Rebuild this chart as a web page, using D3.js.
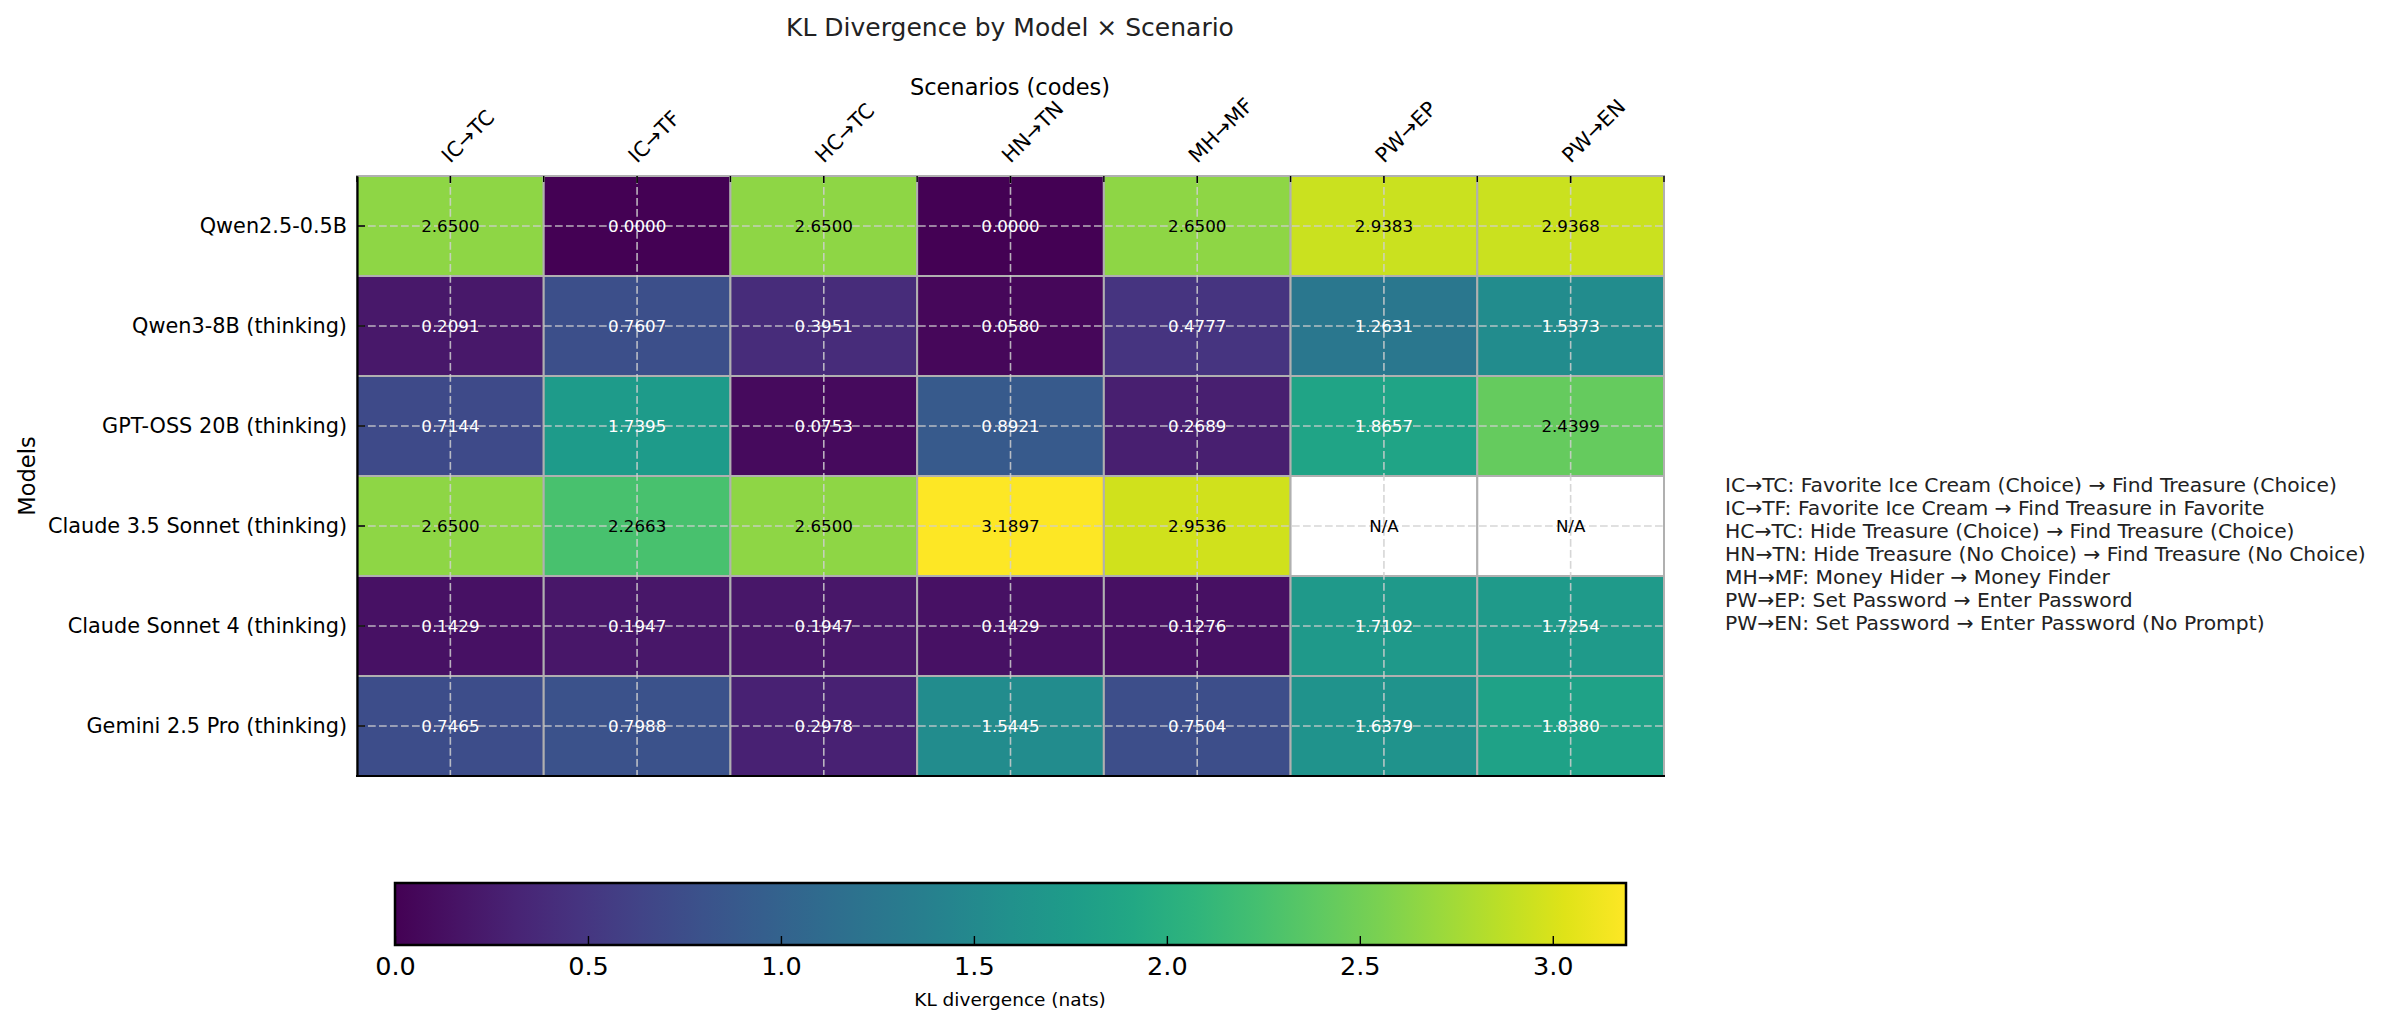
<!DOCTYPE html>
<html>
<head>
<meta charset="utf-8">
<script src="https://cdn.jsdelivr.net/npm/d3@7"></script>
<style>
  body { margin: 0; background: #fff; }
  text { font-family: "DejaVu Sans", sans-serif; }
</style>
</head>
<body>
<svg width="2400" height="1027"></svg>
<script>
// rows = models, columns = scenarios, null = N/A
var models = ["Qwen2.5-0.5B", "Qwen3-8B (thinking)", "GPT-OSS 20B (thinking)",
              "Claude 3.5 Sonnet (thinking)", "Claude Sonnet 4 (thinking)", "Gemini 2.5 Pro (thinking)"];
var scenarios = ["IC→TC", "IC→TF", "HC→TC", "HN→TN", "MH→MF", "PW→EP", "PW→EN"];

var qwen25   = [2.6500, 0.0000, 2.6500, 0.0000, 2.6500, 2.9383, 2.9368];
var qwen3    = [0.2091, 0.7607, 0.3951, 0.0580, 0.4777, 1.2631, 1.5373];
var gptOss   = [0.7144, 1.7395, 0.0753, 0.8921, 0.2689, 1.8657, 2.4399];
var claude35 = [2.6500, 2.2663, 2.6500, 3.1897, 2.9536, null, null];
var claude4  = [0.1429, 0.1947, 0.1947, 0.1429, 0.1276, 1.7102, 1.7254];
var gemini   = [0.7465, 0.7988, 0.2978, 1.5445, 0.7504, 1.6379, 1.8380];

var colorbarTicks = [0, 0.5, 1.0, 1.5, 2.0, 2.5, 3.0];

var legendLines = [
    "IC→TC: Favorite Ice Cream (Choice) → Find Treasure (Choice)",
    "IC→TF: Favorite Ice Cream → Find Treasure in Favorite",
    "HC→TC: Hide Treasure (Choice) → Find Treasure (Choice)",
    "HN→TN: Hide Treasure (No Choice) → Find Treasure (No Choice)",
    "MH→MF: Money Hider → Money Finder",
    "PW→EP: Set Password → Enter Password",
    "PW→EN: Set Password → Enter Password (No Prompt)"
];

var rows = [qwen25, qwen3, gptOss, claude35, claude4, gemini];

var cells = [];
rows.forEach(function(r, i) {
    r.forEach(function(v, j) {
        cells.push({model: models[i], scenario: scenarios[j], value: v});
    });
});

var svg = d3.select("svg");
svg.append("rect").attr("width", 2400).attr("height", 1027).attr("fill", "#fff");

var plotL = 357, plotR = 1664, plotT = 176, plotB = 776;

var x = d3.scaleBand().domain(scenarios).range([plotL, plotR]);
var y = d3.scaleBand().domain(models).range([plotT, plotB]);

var vmax = d3.max(cells, function(d) { return d.value; });
var color = d3.scaleSequential(d3.interpolateViridis).domain([0, vmax]);

// cells
svg.append("g").selectAll("rect")
    .data(cells)
    .enter().append("rect")
    .attr("x", function(d) { return x(d.scenario); })
    .attr("y", function(d) { return y(d.model); })
    .attr("width", x.bandwidth())
    .attr("height", y.bandwidth())
    .attr("fill", function(d) { return d.value == null ? "#fff" : color(d.value); })
    .attr("stroke", "#b0b0b0")
    .attr("stroke-width", 2);

// dashed grid through cell centers
var grid = svg.append("g")
    .attr("stroke", "#cfcfcf")
    .attr("stroke-opacity", 0.85)
    .attr("stroke-width", 1.6)
    .attr("stroke-dasharray", "7.7,3.3");

grid.selectAll("line.v")
    .data(scenarios)
    .enter().append("line")
    .attr("x1", function(d) { return x(d) + x.bandwidth() / 2; })
    .attr("x2", function(d) { return x(d) + x.bandwidth() / 2; })
    .attr("y1", plotT).attr("y2", plotB);

grid.selectAll("line.h")
    .data(models)
    .enter().append("line")
    .attr("y1", function(d) { return y(d) + y.bandwidth() / 2; })
    .attr("y2", function(d) { return y(d) + y.bandwidth() / 2; })
    .attr("x1", plotL).attr("x2", plotR);

// annotations
svg.append("g").selectAll("text")
    .data(cells)
    .enter().append("text")
    .attr("x", function(d) { return x(d.scenario) + x.bandwidth() / 2; })
    .attr("y", function(d) { return y(d.model) + y.bandwidth() / 2; })
    .attr("dy", "0.35em")
    .attr("text-anchor", "middle")
    .attr("font-size", 16.7)
    .attr("fill", function(d) {
        if (d.value == null) return "#000";
        return d.value > vmax * 0.6 ? "#000" : "#fff";
    })
    .text(function(d) { return d.value == null ? "N/A" : d.value.toFixed(4); });

// top axis
var topAxis = svg.append("g")
    .attr("transform", "translate(0," + plotT + ")")
    .call(d3.axisTop(x).tickSize(-7).tickSizeOuter(0));
topAxis.select(".domain").remove();
topAxis.selectAll(".tick line").attr("stroke", "#000").attr("stroke-width", 1.6);
topAxis.selectAll(".tick text")
    .attr("x", 0).attr("y", 0).attr("dy", null)
    .attr("text-anchor", "start")
    .attr("transform", "translate(0,-12) rotate(-45)")
    .attr("font-size", 20.8)
    .attr("font-family", "DejaVu Sans")
    .attr("fill", "#000");

// minor ticks on cell boundaries
var bounds = scenarios.map(function(s) { return x(s); }).concat([x.range()[1]]);
svg.append("g").selectAll("line")
    .data(bounds)
    .enter().append("line")
    .attr("x1", function(d) { return d; })
    .attr("x2", function(d) { return d; })
    .attr("y1", plotT).attr("y2", plotT + 6)
    .attr("stroke", "#000")
    .attr("stroke-width", 1.4);

// left axis
var leftAxis = svg.append("g")
    .attr("transform", "translate(" + plotL + ",0)")
    .call(d3.axisLeft(y).tickSize(-8).tickSizeOuter(0).tickPadding(10));
leftAxis.select(".domain").attr("stroke", "#000").attr("stroke-width", 2.2);
leftAxis.selectAll(".tick line").attr("stroke", "#000").attr("stroke-width", 1.6);
leftAxis.selectAll(".tick text")
    .attr("font-size", 20.8)
    .attr("font-family", "DejaVu Sans")
    .attr("fill", "#000");

// bottom spine
svg.append("line")
    .attr("x1", plotL - 1).attr("x2", plotR + 1)
    .attr("y1", plotB).attr("y2", plotB)
    .attr("stroke", "#000").attr("stroke-width", 2.2);

// titles
svg.append("text")
    .attr("x", 1010).attr("y", 36)
    .attr("text-anchor", "middle")
    .attr("font-size", 25)
    .attr("fill", "#222")
    .text("KL Divergence by Model × Scenario");

svg.append("text")
    .attr("x", 1010).attr("y", 95)
    .attr("text-anchor", "middle")
    .attr("font-size", 22.5)
    .attr("fill", "#000")
    .text("Scenarios (codes)");

svg.append("text")
    .attr("transform", "translate(35," + ((plotT + plotB) / 2) + ") rotate(-90)")
    .attr("text-anchor", "middle")
    .attr("font-size", 22.5)
    .attr("fill", "#000")
    .text("Models");

// legend text
svg.append("g").selectAll("text")
    .data(legendLines)
    .enter().append("text")
    .attr("x", 1725)
    .attr("y", function(d, i) { return 485 + i * 23; })
    .attr("dy", "0.35em")
    .attr("font-size", 20.3)
    .attr("fill", "#222")
    .text(function(d) { return d; });

// colorbar
var cbTop = 883, cbHeight = 62;
var cbx = d3.scaleLinear().domain([0, vmax]).range([395, 1626]);

var grad = svg.append("defs").append("linearGradient")
    .attr("id", "viridis")
    .attr("x1", "0%").attr("x2", "100%").attr("y1", "0%").attr("y2", "0%");
d3.range(0, 1.0001, 0.05).forEach(function(t) {
    grad.append("stop")
        .attr("offset", (t * 100) + "%")
        .attr("stop-color", d3.interpolateViridis(t));
});

svg.append("rect")
    .attr("x", cbx(0)).attr("y", cbTop)
    .attr("width", cbx(vmax) - cbx(0)).attr("height", cbHeight)
    .attr("fill", "url(#viridis)")
    .attr("stroke", "#000").attr("stroke-width", 2.5);

var cbAxis = svg.append("g")
    .attr("transform", "translate(0," + (cbTop + cbHeight) + ")")
    .call(d3.axisBottom(cbx).tickValues(colorbarTicks).tickFormat(d3.format(".1f"))
        .tickSize(-9).tickSizeOuter(0).tickPadding(12));
cbAxis.select(".domain").remove();
cbAxis.selectAll(".tick line").attr("stroke", "#000").attr("stroke-width", 1.4);
cbAxis.selectAll(".tick text")
    .attr("font-size", 25.5)
    .attr("font-family", "DejaVu Sans")
    .attr("fill", "#000");

svg.append("text")
    .attr("x", 1010).attr("y", 1006)
    .attr("text-anchor", "middle")
    .attr("font-size", 18.5)
    .attr("fill", "#000")
    .text("KL divergence (nats)");
</script>
</body>
</html>
